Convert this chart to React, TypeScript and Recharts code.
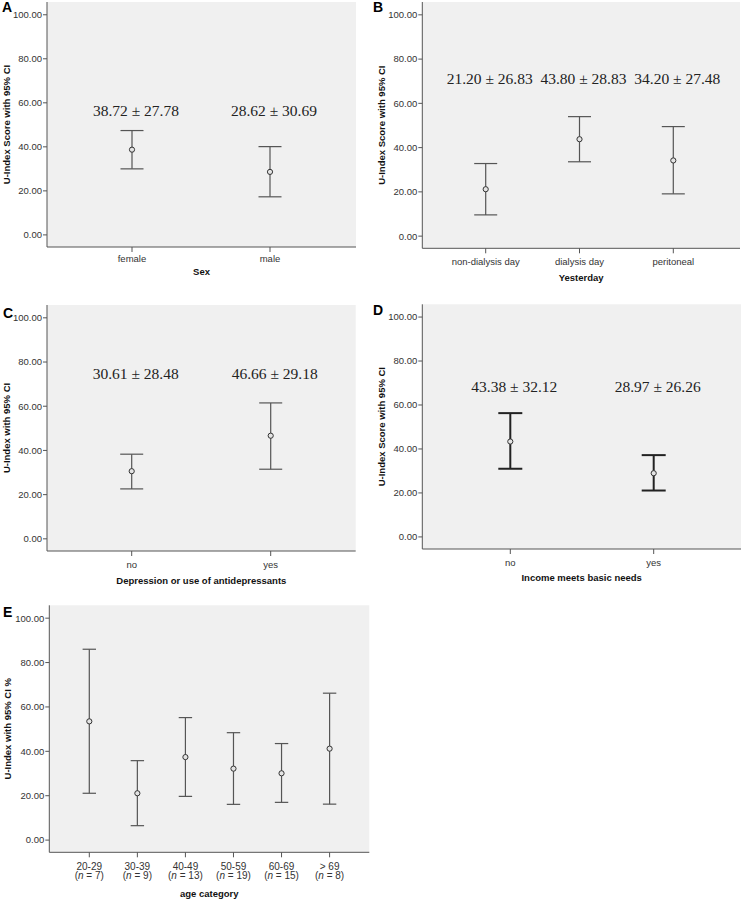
import React from "react";
import {
  ComposedChart,
  Scatter,
  ErrorBar,
  XAxis,
  YAxis,
  CartesianGrid,
  ReferenceDot,
} from "recharts";

// A: sex
const sexCats = ["female", "male"];
const sexMean = [38.72, 28.62];
const sexSd = [27.78, 30.69];
const sexLo = [30.0, 17.3];
const sexHi = [47.4, 40.1];

// B: yesterday
const dayCats = ["non-dialysis day", "dialysis day", "peritoneal"];
const dayMean = [21.2, 43.8, 34.2];
const daySd = [26.83, 28.83, 27.48];
const dayLo = [9.6, 33.6, 19.1];
const dayHi = [32.8, 54.0, 49.5];

// C: depression
const depCats = ["no", "yes"];
const depMean = [30.61, 46.66];
const depSd = [28.48, 29.18];
const depLo = [22.6, 31.5];
const depHi = [38.3, 61.5];

// D: income
const incCats = ["no", "yes"];
const incMean = [43.38, 28.97];
const incSd = [32.12, 26.26];
const incLo = [31.0, 21.1];
const incHi = [56.3, 37.2];

// E: age category
const ageCats = ["20-29", "30-39", "40-49", "50-59", "60-69", "> 69"];
const ageN = [7, 9, 13, 19, 15, 8];
const ageMean = [53.5, 21.1, 37.4, 32.2, 30.1, 41.2];
const ageLo = [21.1, 6.5, 19.7, 16.1, 17.0, 16.2];
const ageHi = [86.0, 35.8, 55.2, 48.4, 43.5, 66.2];

const yTicks = [0, 20, 40, 60, 80, 100];
const Y_DOMAIN = [-5.5, 105.8];

const SANS = "'Liberation Sans', Arial, sans-serif";
const SERIF = "'Liberation Serif', 'Times New Roman', serif";
const AXIS = "#555";

type PanelProps = {
  letter: string;
  letterPos: [number, number];
  cats: string[];
  mean: number[];
  lo: number[];
  hi: number[];
  sd?: number[];
  n?: number[];
  xTitle: string;
  yTitle: string;
  left: number;
  top: number;
  width: number;
  height: number;
  box: { x1: number; y1: number; x2: number; y2: number };
  padL: number;
  padR: number;
  labelLevel?: number;
  cap: number;
  barColor: string;
  barWidth: number;
  yTitleX: number;
  tickDy: number;
  xTitleDy: number;
};

const Panel = (p: PanelProps) => {
  const data = p.cats.map((c, i) => ({
    cat: c,
    mean: p.mean[i],
    err: [p.mean[i] - p.lo[i], p.hi[i] - p.mean[i]],
  }));
  const margin = {
    top: p.box.y1 - p.top,
    right: p.left + p.width - p.box.x2,
    left: 0,
    bottom: 0,
  };

  const renderTick = (t: any) => {
    const i = t.index;
    if (p.n) {
      return (
        <text x={t.x} y={t.y} textAnchor="middle" fontSize={10} fill="#333" fontFamily={SANS}>
          <tspan x={t.x} dy={p.tickDy}>{t.payload.value}</tspan>
          <tspan x={t.x} dy={9.7}>
            (<tspan fontStyle="italic">n</tspan> = {p.n[i]})
          </tspan>
        </text>
      );
    }
    return (
      <text x={t.x} y={t.y} dy={p.tickDy} textAnchor="middle" fontSize={9.5} fill="#333" fontFamily={SANS}>
        {t.payload.value}
      </text>
    );
  };

  const xTitle = (props: any) => {
    const vb = props.viewBox;
    return (
      <text
        x={vb.x + vb.width / 2}
        y={vb.y + p.xTitleDy}
        textAnchor="middle"
        fontSize={9.5}
        fontWeight="bold"
        fill="#111"
        fontFamily={SANS}
      >
        {p.xTitle}
      </text>
    );
  };

  const yTitle = (props: any) => {
    const vb = props.viewBox;
    const cx = p.yTitleX;
    const cy = vb.y + vb.height / 2;
    return (
      <text
        x={cx}
        y={cy}
        transform={`rotate(-90 ${cx} ${cy})`}
        textAnchor="middle"
        dominantBaseline="central"
        fontSize={9.5}
        fontWeight="bold"
        fill="#111"
        fontFamily={SANS}
      >
        {p.yTitle}
      </text>
    );
  };

  return (
    <>
      <div
        style={{
          position: "absolute",
          left: p.letterPos[0],
          top: p.letterPos[1],
          fontFamily: SANS,
          fontWeight: "bold",
          fontSize: 14,
          lineHeight: "14px",
          color: "#000",
        }}
      >
        {p.letter}
      </div>
      <div style={{ position: "absolute", left: p.left, top: p.top }}>
        <ComposedChart width={p.width} height={p.height} data={data} margin={margin}>
          <CartesianGrid fill="#f0f0f0" horizontal={false} vertical={false} />
          <XAxis
            dataKey="cat"
            type="category"
            scale="point"
            padding={{ left: p.padL, right: p.padR }}
            height={p.top + p.height - p.box.y2}
            stroke={AXIS}
            tickSize={5}
            tickMargin={2}
            interval={0}
            tick={renderTick}
            label={{ content: xTitle }}
          />
          <XAxis
            xAxisId="top"
            orientation="top"
            dataKey="cat"
            height={0}
            tick={false}
            tickLine={false}
            stroke={AXIS}
          />
          <YAxis
            type="number"
            domain={Y_DOMAIN}
            ticks={yTicks}
            allowDataOverflow
            interval={0}
            width={p.box.x1 - p.left}
            tickFormatter={(v: number) => v.toFixed(2)}
            tickSize={4}
            tickMargin={1}
            stroke={AXIS}
            tick={{ fontSize: 9.5, fill: "#333", fontFamily: SANS }}
            label={{ content: yTitle }}
          />
          <YAxis
            yAxisId="right"
            orientation="right"
            type="number"
            domain={Y_DOMAIN}
            allowDataOverflow
            width={0}
            tick={false}
            tickLine={false}
            stroke={AXIS}
          />
          <Scatter
            dataKey="mean"
            isAnimationActive={false}
            shape={(s: any) => (
              <circle cx={s.cx} cy={s.cy} r={2.6} fill="#e4e4e4" stroke="#333" strokeWidth={1} />
            )}
          >
            <ErrorBar
              dataKey="err"
              direction="y"
              width={p.cap}
              stroke={p.barColor}
              strokeWidth={p.barWidth}
              isAnimationActive={false}
            />
          </Scatter>
          {p.sd &&
            p.labelLevel !== undefined &&
            p.cats.map((c, i) => (
              <ReferenceDot
                key={c}
                x={c}
                y={p.labelLevel}
                r={0}
                fill="none"
                stroke="none"
                label={{
                  content: (lp: any) => {
                    const vb = lp.viewBox;
                    return (
                      <text
                        x={vb.x + (vb.width || 0) / 2 + 4}
                        y={vb.y + (vb.height || 0) / 2}
                        textAnchor="middle"
                        dominantBaseline="central"
                        fontSize={15.5}
                        fill="#222"
                        fontFamily={SERIF}
                      >
                        {`${p.mean[i].toFixed(2)} ± ${p.sd![i].toFixed(2)}`}
                      </text>
                    );
                  },
                }}
              />
            ))}
        </ComposedChart>
      </div>
    </>
  );
};

const App = () => {
  return (
    <div
      style={{
        position: "absolute",
        left: 0,
        top: 0,
        width: 743,
        height: 899,
        background: "#fff",
        overflow: "hidden",
      }}
    >
      <Panel
        letter="A"
        letterPos={[2, 0]}
        cats={sexCats}
        mean={sexMean}
        lo={sexLo}
        hi={sexHi}
        sd={sexSd}
        xTitle="Sex"
        yTitle="U-Index Score with 95% CI"
        left={0}
        top={0}
        width={370}
        height={285}
        box={{ x1: 47, y1: 2, x2: 356, y2: 247 }}
        padL={85}
        padR={86}
        labelLevel={56.5}
        cap={11.5}
        barColor="#555"
        barWidth={1.2}
        yTitleX={6.7}
        tickDy={8}
        xTitleDy={27.8}
      />
      <Panel
        letter="B"
        letterPos={[373, 0]}
        cats={dayCats}
        mean={dayMean}
        lo={dayLo}
        hi={dayHi}
        sd={daySd}
        xTitle="Yesterday"
        yTitle="U-Index Score with 95% CI"
        left={370}
        top={0}
        width={373}
        height={285}
        box={{ x1: 422.3, y1: 2, x2: 740, y2: 248.3 }}
        padL={63.4}
        padR={66.7}
        labelLevel={71.1}
        cap={11.5}
        barColor="#555"
        barWidth={1.2}
        yTitleX={11.7}
        tickDy={10}
        xTitleDy={32.5}
      />
      <Panel
        letter="C"
        letterPos={[3, 306]}
        cats={depCats}
        mean={depMean}
        lo={depLo}
        hi={depHi}
        sd={depSd}
        xTitle="Depression or use of antidepressants"
        yTitle="U-Index with 95% CI"
        left={0}
        top={290}
        width={370}
        height={300}
        box={{ x1: 47, y1: 305, x2: 355.7, y2: 551 }}
        padL={84.7}
        padR={85}
        labelLevel={74.7}
        cap={11.5}
        barColor="#555"
        barWidth={1.2}
        yTitleX={6.7}
        tickDy={9.5}
        xTitleDy={32.5}
      />
      <Panel
        letter="D"
        letterPos={[373, 303]}
        cats={incCats}
        mean={incMean}
        lo={incLo}
        hi={incHi}
        sd={incSd}
        xTitle="Income meets basic needs"
        yTitle="U-Index Score with 95% CI"
        left={370}
        top={290}
        width={373}
        height={300}
        box={{ x1: 422.3, y1: 304.3, x2: 741, y2: 549 }}
        padL={88}
        padR={87.3}
        labelLevel={68.3}
        cap={12}
        barColor="#222"
        barWidth={2}
        yTitleX={11.7}
        tickDy={10}
        xTitleDy={31.8}
      />
      <Panel
        letter="E"
        letterPos={[3, 605]}
        cats={ageCats}
        mean={ageMean}
        lo={ageLo}
        hi={ageHi}
        n={ageN}
        xTitle="age category"
        yTitle="U-Index with 95% CI %"
        left={0}
        top={590}
        width={400}
        height={309}
        box={{ x1: 49.3, y1: 605.3, x2: 369.3, y2: 852.3 }}
        padL={40}
        padR={39.7}
        cap={6.7}
        barColor="#555"
        barWidth={1.2}
        yTitleX={7.7}
        tickDy={10.2}
        xTitleDy={44.5}
      />
    </div>
  );
};

export default App;
